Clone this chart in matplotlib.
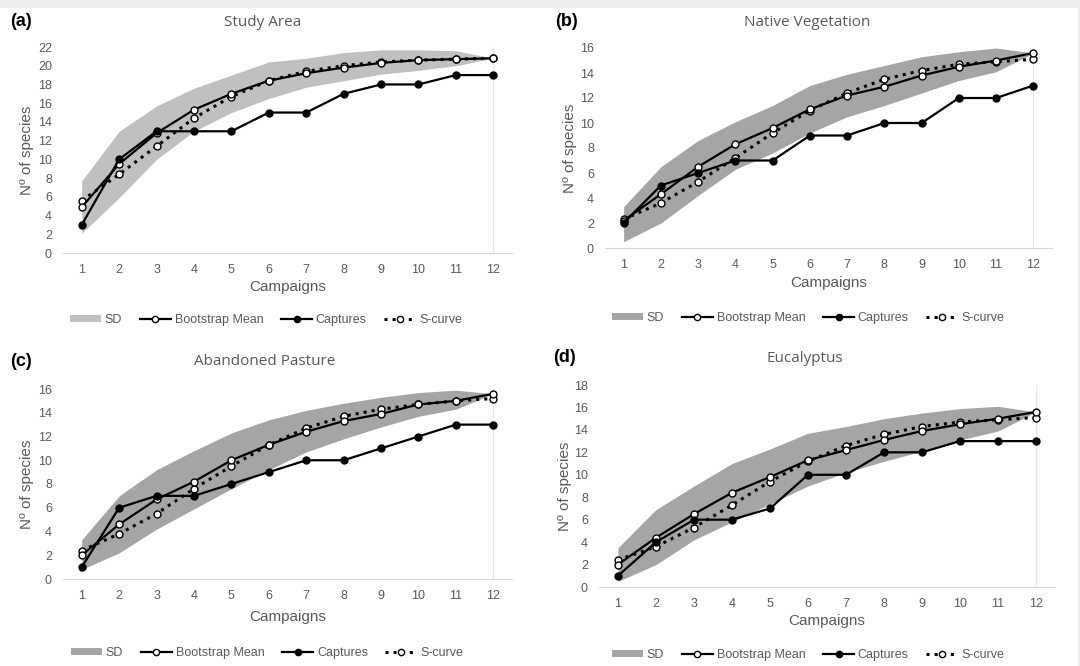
import numpy as np
import matplotlib
matplotlib.use("Agg")
from matplotlib import pyplot as plt
from matplotlib.lines import Line2D
from matplotlib.patches import Patch, Rectangle

plt.rcParams['font.family'] = ['Liberation Sans', 'DejaVu Sans']

campaigns = np.arange(1, 13)

# (a) Study Area
a_captures = [3, 10, 13, 13, 13, 15, 15, 17, 18, 18, 19, 19]
a_boot = [4.9, 9.5, 12.8, 15.3, 17.0, 18.4, 19.2, 19.8, 20.3, 20.6, 20.7, 20.8]
a_scurve = [5.6, 8.4, 11.4, 14.4, 16.7, 18.4, 19.4, 20.0, 20.4, 20.6, 20.7, 20.8]
a_sd_up = [7.7, 13.0, 15.7, 17.6, 19.0, 20.4, 20.8, 21.4, 21.7, 21.7, 21.6, 20.8]
a_sd_lo = [2.1, 5.9, 10.0, 13.0, 15.0, 16.5, 17.7, 18.4, 19.1, 19.5, 20.0, 20.8]

# (b) Native Vegetation
b_captures = [2, 5, 6, 7, 7, 9, 9, 10, 10, 12, 12, 13]
b_boot = [2.2, 4.3, 6.5, 8.3, 9.6, 11.1, 12.2, 12.9, 13.8, 14.5, 15.0, 15.6]
b_scurve = [2.3, 3.6, 5.3, 7.2, 9.2, 11.0, 12.4, 13.5, 14.2, 14.7, 14.9, 15.1]
b_sd_up = [3.3, 6.5, 8.6, 10.1, 11.4, 13.0, 13.9, 14.6, 15.3, 15.7, 16.0, 15.6]
b_sd_lo = [0.5, 2.0, 4.2, 6.3, 7.6, 9.2, 10.5, 11.4, 12.4, 13.4, 14.1, 15.6]

# (c) Abandoned Pasture
c_captures = [1, 6, 7, 7, 8, 9, 10, 10, 11, 12, 13, 13]
c_boot = [2.0, 4.6, 6.7, 8.2, 10.0, 11.3, 12.4, 13.3, 13.9, 14.7, 15.0, 15.6]
c_scurve = [2.4, 3.8, 5.5, 7.6, 9.5, 11.3, 12.7, 13.7, 14.3, 14.7, 15.0, 15.2]
c_sd_up = [3.3, 7.0, 9.2, 10.8, 12.3, 13.4, 14.2, 14.8, 15.3, 15.7, 15.9, 15.6]
c_sd_lo = [0.8, 2.2, 4.2, 5.9, 7.6, 9.2, 10.7, 11.8, 12.8, 13.7, 14.3, 15.6]

# (d) Eucalyptus
d_captures = [1, 4, 6, 6, 7, 10, 10, 12, 12, 13, 13, 13]
d_boot = [2.0, 4.4, 6.5, 8.4, 9.8, 11.3, 12.2, 13.1, 13.9, 14.5, 15.0, 15.6]
d_scurve = [2.4, 3.6, 5.3, 7.3, 9.4, 11.2, 12.6, 13.6, 14.3, 14.7, 14.9, 15.1]
d_sd_up = [3.5, 6.9, 9.0, 11.0, 12.3, 13.7, 14.3, 15.0, 15.5, 15.9, 16.1, 15.6]
d_sd_lo = [0.5, 2.0, 4.2, 5.8, 7.4, 9.0, 10.2, 11.2, 12.1, 13.1, 13.9, 15.6]

W, H = 1080, 666
TXT = '#595959'


def px_axes(fig, left, top, right, bottom):
    # pixel box (top-left origin) -> figure fraction
    return fig.add_axes([left / W, 1 - bottom / H, (right - left) / W, (bottom - top) / H])


def draw_panel(fig, box, captures, boot, scurve, sd_up, sd_lo, ymax, sd_color,
               letter, title, corner, title_x, title_y, ylab_x, xlab_y, leg_y, leg_x):
    ax = px_axes(fig, *box)
    ax.fill_between(campaigns, sd_lo, sd_up, color=sd_color, lw=0, zorder=1)
    ax.plot(campaigns, scurve, ':', color='black', lw=2.2, marker='o', ms=5,
            mfc='white', mec='black', mew=1.0, zorder=3)
    ax.plot(campaigns, boot, '-', color='black', lw=1.6, marker='o', ms=5,
            mfc='white', mec='black', mew=1.0, zorder=4)
    ax.plot(campaigns, captures, '-', color='black', lw=1.6, marker='o', ms=5,
            mfc='black', mec='black', zorder=5)
    ax.axvline(12, color='#e6e6e6', lw=0.8, zorder=0)
    ax.set_xlim(0.5, 12.5)
    ax.set_ylim(0, ymax)
    ax.set_xticks(campaigns)
    ax.set_yticks(np.arange(0, ymax + 1, 2))
    ax.tick_params(length=0, labelsize=9, labelcolor=TXT, pad=8)
    for s in ['top', 'right', 'left']:
        ax.spines[s].set_visible(False)
    ax.spines['bottom'].set_color('#d9d9d9')
    ax.patch.set_alpha(0)

    fig.text(corner[0] / W, 1 - corner[1] / H, letter, fontsize=13, fontweight='bold',
             color='black', va='center', ha='left')
    fig.text(title_x / W, 1 - title_y / H, title, fontsize=11, color=TXT,
             family=['Open Sans', 'DejaVu Sans'], ha='center', va='center')
    fig.text(ylab_x / W, 1 - (box[1] + box[3]) / 2 / H, 'Nº of species', fontsize=11,
             color=TXT, rotation=90, ha='center', va='center')
    fig.text((box[0] + box[2]) / 2 / W, 1 - xlab_y / H, 'Campaigns', fontsize=11,
             color=TXT, ha='center', va='center')

    handles = [
        Patch(facecolor=sd_color, edgecolor='none'),
        Line2D([], [], color='black', lw=1.6, marker='o', ms=4.5, mfc='white', mec='black'),
        Line2D([], [], color='black', lw=1.6, marker='o', ms=4.5, mfc='black', mec='black'),
        Line2D([], [], color='black', lw=2.2, ls=':', marker='o', ms=4.5, mfc='white', mec='black'),
    ]
    labels = ['SD', 'Bootstrap Mean', 'Captures', 'S-curve']
    fig.legend(handles, labels, loc='center', ncol=4, frameon=False,
               bbox_to_anchor=(leg_x / W, 1 - leg_y / H), fontsize=9,
               handlelength=2.5, handleheight=0.5, columnspacing=1.4,
               handletextpad=0.3, labelcolor=TXT)
    return ax


fig = plt.figure(figsize=(W / 100, H / 100), dpi=100)
fig.patches.append(Rectangle((0, 1 - 8 / H), 1, 8 / H, transform=fig.transFigure,
                             facecolor='#eeeeee', edgecolor='none'))
fig.patches.append(Rectangle((1 - 2 / W, 0), 2 / W, 1, transform=fig.transFigure,
                             facecolor='#eeeeee', edgecolor='none'))

draw_panel(fig, (63, 47, 512, 253), a_captures, a_boot, a_scurve, a_sd_up, a_sd_lo, 22,
           '#c0c0c0', '(a)', 'Study Area', (10, 22), 263, 23, 27, 287, 320, 266)
draw_panel(fig, (605, 48, 1052, 248), b_captures, b_boot, b_scurve, b_sd_up, b_sd_lo, 16,
           '#a5a5a5', '(b)', 'Native Vegetation', (555, 22), 807, 22, 570, 283, 318, 808)
draw_panel(fig, (63, 389, 512, 579), c_captures, c_boot, c_scurve, c_sd_up, c_sd_lo, 16,
           '#a5a5a5', '(c)', 'Abandoned Pasture', (10, 361), 265, 361, 27, 617, 653, 267)
draw_panel(fig, (599, 385, 1055, 587), d_captures, d_boot, d_scurve, d_sd_up, d_sd_lo, 18,
           '#a5a5a5', '(d)', 'Eucalyptus', (553, 358), 805, 359, 565, 621, 655, 808)

fig.savefig('out.png', dpi=100, facecolor='white')
